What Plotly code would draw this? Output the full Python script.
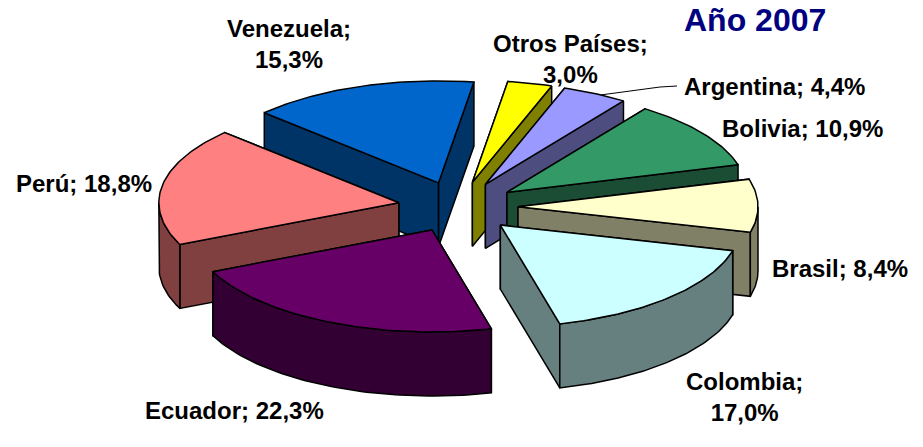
import math
import plotly.graph_objects as go

categories = ["Otros Países", "Argentina", "Bolivia", "Brasil", "Colombia", "Ecuador", "Perú", "Venezuela"]
values = [3.0, 4.4, 10.9, 8.4, 17.0, 22.3, 18.8, 15.3]
top_colors = ["#FFFF00", "#9999FF", "#339966", "#FFFFCC", "#CCFFFF", "#660066", "#FF8080", "#0066CC"]
side_colors = ["#808000", "#4D4D80", "#1A4D33", "#808066", "#668080", "#330033", "#804040", "#003366"]
labels = ["Otros Países;<br>3,0%", "Argentina; 4,4%", "Bolivia; 10,9%", "Brasil; 8,4%",
          "Colombia;<br>17,0%", "Ecuador; 22,3%", "Perú; 18,8%", "Venezuela;<br>15,3%"]
label_x = [570, 774, 802, 840, 744, 234, 84, 289]
label_y = [59, 86, 128, 268, 397, 410, 183, 44]

CX, CY, RX, TILT, HEIGHT, EXPLODE, ROT = 458, 207, 240, 0.425, 64, 60, 8.5


def pt(theta, r, origin=(0, 0)):
    t = math.radians(theta)
    return origin[0] + r * math.sin(t), origin[1] - r * TILT * math.cos(t)


def poly(fig, pts, color):
    fig.add_trace(go.Scatter(x=[p[0] for p in pts] + [pts[0][0]], y=[p[1] for p in pts] + [pts[0][1]],
                             mode="lines", fill="toself", fillcolor=color,
                             line=dict(color="black", width=1.5), hoverinfo="skip", showlegend=False))


fig = go.Figure()
total = sum(values)
wedges = []
a = ROT
for i, v in enumerate(values):
    b = a + v / total * 360
    wedges.append((i, a, b))
    a = b


def depth(w):
    return pt((w[1] + w[2]) / 2, 1)[1]


def apex_of(mid):
    ox, oy = pt(mid, EXPLODE)
    return CX + ox, CY + oy


def arc_pts(a, b, origin):
    n = max(int(b - a), 4)
    return [pt(a + (b - a) * k / n, RX, origin) for k in range(n + 1)]


for i, a, b in sorted(wedges, key=depth):
    apex = apex_of((a + b) / 2)
    arc = arc_pts(a, b, apex)
    apex_low = (apex[0], apex[1] + HEIGHT)
    for end in sorted((arc[0], arc[-1]), key=lambda p: p[1]):
        poly(fig, [apex, end, (end[0], end[1] + HEIGHT), apex_low], side_colors[i])
    ra, rb = max(a, 90), min(b, 270)
    if rb > ra:
        rim = arc_pts(ra, rb, apex)
        poly(fig, rim + [(x, y + HEIGHT) for x, y in rim[::-1]], side_colors[i])
    poly(fig, [apex] + arc, top_colors[i])

# leader line for Argentina
a_arg, b_arg = wedges[1][1], wedges[1][2]
lx, ly = pt(a_arg + (b_arg - a_arg) * 0.6, RX, apex_of((a_arg + b_arg) / 2))
fig.add_trace(go.Scatter(x=[lx, 660, 677], y=[ly, 87, 86], mode="lines",
                         line=dict(color="black", width=1), hoverinfo="skip", showlegend=False))

for t, x, y in zip(labels, label_x, label_y):
    fig.add_annotation(x=x, y=y, text="<b>" + t + "</b>", showarrow=False,
                       font=dict(family="Liberation Sans", size=24, color="black"))
fig.add_annotation(x=755, y=20, text="<b>Año 2007</b>", showarrow=False,
                   font=dict(family="Liberation Sans", size=32, color="#000080"))

fig.update_layout(width=923, height=447, margin=dict(l=0, r=0, t=0, b=0),
                  paper_bgcolor="white", plot_bgcolor="white",
                  xaxis=dict(range=[0, 923], visible=False, fixedrange=True),
                  yaxis=dict(range=[447, 0], visible=False, fixedrange=True))
fig.write_html("out.html", post_script="document.body.style.margin='0';", config={"displayModeBar": False})
